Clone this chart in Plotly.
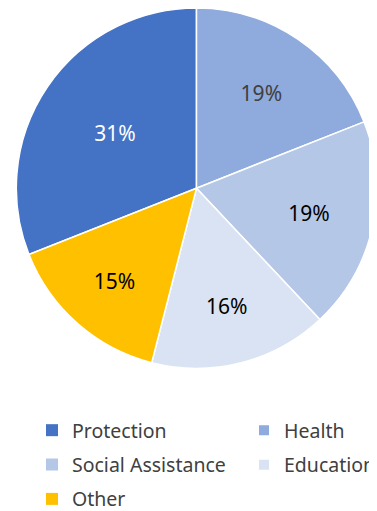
import plotly.graph_objects as go

# categories and shares (%)
sectors = ["Protection", "Health", "Social Assistance", "Education", "Other"]
shares = [31, 19, 19, 16, 15]
colors = ["#4472c4", "#8faadc", "#b4c7e7", "#dae3f3", "#ffc000"]
label_colors = ["#ffffff", "#404040", "#000000", "#000000", "#000000"]
# which legend column each category sits in
legend_cols = ["legend", "legend2", "legend", "legend2", "legend"]

fig = go.Figure()
fig.add_trace(go.Pie(
    labels=sectors,
    values=shares,
    sort=False,
    direction="clockwise",
    rotation=-111.6,
    marker=dict(colors=colors, line=dict(color="white", width=1.5)),
    texttemplate="%{value}%",
    textposition="inside",
    insidetextorientation="horizontal",
    insidetextfont=dict(color=label_colors, size=21),
    domain=dict(x=[0, 1], y=[0.26, 1.0]),
    hoverinfo="label+percent",
    showlegend=False,
))

# legend entries (two columns)
for name, col, leg in zip(sectors, colors, legend_cols):
    fig.add_trace(go.Scatter(
        x=[None], y=[None], mode="markers", name=name,
        marker=dict(symbol="square", size=12 if leg == "legend" else 10, color=col),
        legend=leg, legendgroup=name, hoverinfo="skip",
    ))

leg_style = dict(
    orientation="v", xanchor="left", yanchor="top",
    font=dict(size=19.5, color="#404040"),
    tracegroupgap=6, bgcolor="rgba(0,0,0,0)",
)

fig.update_layout(
    width=377,
    height=511,
    margin=dict(l=0, r=0, t=0, b=0),
    paper_bgcolor="white",
    plot_bgcolor="white",
    font=dict(family="Noto Sans", color="#404040"),
    xaxis=dict(visible=False),
    yaxis=dict(visible=False),
    legend=dict(x=24 / 377, y=88 / 511, **leg_style),
    legend2=dict(x=236 / 377, y=88 / 511, **leg_style),
)

fig.write_html("out.html")
